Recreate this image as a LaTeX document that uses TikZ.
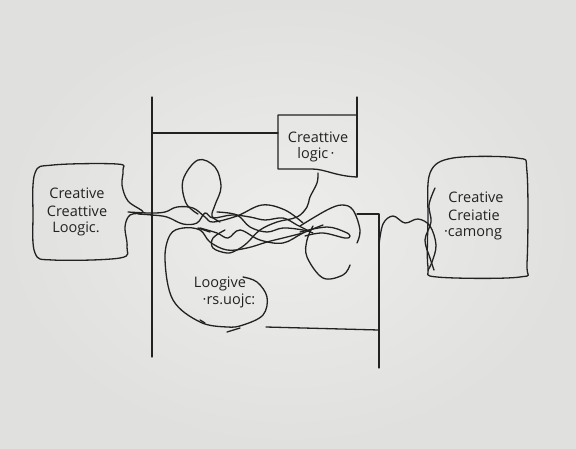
\documentclass[tikz,border=0pt]{standalone}
\usepackage{fontspec}
\setmainfont{Open Sans}
\begin{document}
\begin{tikzpicture}[x=1pt,y=-1pt,
  ink/.style={draw=inkc,line width=1.3pt,line cap=round,line join=round},
  lbl/.style={font=\fontsize{14.5}{17}\selectfont,text=inkc,align=center,inner sep=0pt}]
\definecolor{inkc}{HTML}{222222}
\definecolor{bgin}{HTML}{EDEDEB}
\definecolor{bgout}{HTML}{E0E0DE}
\useasboundingbox (0,0) rectangle (576,448);
\shade[inner color=bgin,outer color=bgout] (0,0) rectangle (576,448);
% frame lines
\draw[ink] (152,97) -- (152,357);
\draw[ink] (357,97) -- (357,177);
\draw[ink] (152,133) -- (278,133);
% top box
\draw[ink] (357,115) -- (278,115) -- (278,169) -- (312,169) .. controls (325,169) and (335,176) .. (357,177);
% lower rectangle
\draw[ink] (357,214) -- (379,214) -- (379,368);
\draw[ink] (266,327) -- (379,330);
% left blob
\draw[ink] plot[smooth cycle,tension=0.6] coordinates {(35,173) (53,165) (117,164) (123,170) (122,185) (128,201) (143,212) (130,215) (125,227) (127,247) (120,258) (53,260) (35,253) (33,215)};
% right box
\draw[ink] plot[smooth cycle,tension=0.55] coordinates {(430,173) (453,158) (517,158) (527,172) (527,263) (520,277) (437,277) (428,267) (428,220)};
% connector lower rectangle -> right box
\draw[ink] plot[smooth,tension=0.6] coordinates {(379,245) (383,224) (393,216) (405,223) (418,219) (430,226) (436,245) (432,262) (428,270)};
\draw[ink] plot[smooth,tension=0.6] coordinates {(435,188) (429,205) (431,222) (425,240) (430,258) (434,270)};
% strands from left blob tail
\draw[ink] plot[smooth,tension=0.6] coordinates {(128,212) (150,213) (165,212) (177,207) (193,208) (205,217) (213,222) (237,216) (262,205) (285,210) (303,223)};
\draw[ink] plot[smooth,tension=0.6] coordinates {(138,214) (152,215) (167,217) (183,224) (197,223) (205,213) (213,218) (232,215) (250,217) (265,220) (283,218) (297,225) (307,230)};
% head loop
\draw[ink] plot[smooth,tension=0.6] coordinates {(198,214) (186,203) (183,180) (198,160) (215,167) (221,187) (215,205) (212,216) (220,222)};
% middle tangles
\draw[ink] plot[smooth,tension=0.6] coordinates {(217,212) (237,215) (250,227) (267,232) (283,228) (303,230) (313,233)};
\draw[ink] plot[smooth,tension=0.6] coordinates {(200,228) (217,233) (228,238) (240,230) (260,240) (283,243) (303,233) (323,225)};
% curve from top box
\draw[ink] plot[smooth,tension=0.6] coordinates {(318,173) (317,183) (310,197) (307,207) (297,217) (277,222) (260,230) (247,243) (237,250) (227,253) (213,248) (213,238) (225,230)};
% lower blob
\draw[ink] plot[smooth,tension=0.6] coordinates {(303,233) (283,238) (267,242) (247,248) (227,250) (210,242) (200,230) (183,228) (170,235) (165,260) (173,300) (200,322) (227,327) (243,325) (263,315) (267,297) (257,282) (243,277)};
% right loop
\draw[ink] plot[smooth,tension=0.6] coordinates {(313,226) (307,240) (307,257) (323,278) (343,275) (350,265)};
\draw[ink] plot[smooth,tension=0.6] coordinates {(300,226) (327,210) (342,205) (353,210) (360,230) (357,243)};
\draw[ink] plot[smooth,tension=0.6] coordinates {(300,232) (327,227) (345,232) (350,236) (345,238) (323,233) (305,236)};
% small ticks
\draw[ink] (198,228) -- (210,232);
\draw[ink] (200,320) -- (205,323);
\draw[ink] (227,332) -- (240,328);
% texts
\node[lbl] (lt1) at (77,193) {Creative};
\node[lbl] (lt2) at (77,211) {Creattive};
\node[lbl] (lt3) at (76,229) {Loogic.};
\node[lbl] (tt1) at (318,137) {Creattive};
\node[lbl] (tt2) at (316,155) {logic\,·};
\node[lbl] (rt1) at (476,197) {Creative};
\node[lbl] (rt2) at (474,215) {Creiatie};
\node[lbl] (rt3) at (473,234) {·camong};
\node[lbl] (bt1) at (220,284) {Loogive};
\node[lbl] (bt2) at (229,301) {·rs.uojc:};
\end{tikzpicture}
\end{document}
